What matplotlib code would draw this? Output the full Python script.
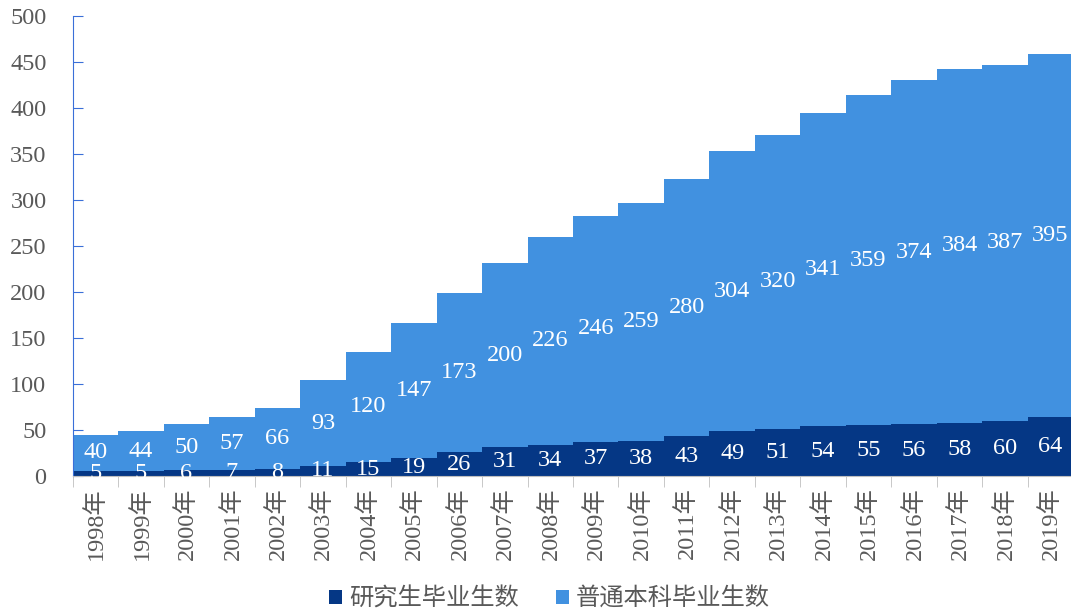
import matplotlib
matplotlib.use("Agg")
import matplotlib.pyplot as plt
import numpy as np

years = [str(y) + "年" for y in range(1998, 2020)]
grad = [5, 5, 6, 7, 8, 11, 15, 19, 26, 31, 34, 37, 38, 43, 49, 51, 54, 55, 56, 58, 60, 64]
under = [40, 44, 50, 57, 66, 93, 120, 147, 173, 200, 226, 246, 259, 280, 304, 320,
         341, 359, 374, 384, 387, 395]
series_names = ["研究生毕业生数", "普通本科毕业生数"]

dark = "#053785"
light = "#4191E0"
grey_txt = "#595959"

plt.rcParams["font.family"] = ["Liberation Serif", "Noto Sans CJK SC"]

fig = plt.figure(figsize=(10.71, 6.14), dpi=100)
ax = fig.add_axes([0.068, 0.2248, 0.934, 0.7492])

x = np.arange(len(years))
b1 = ax.bar(x, grad, width=1.0, color=dark, label=series_names[0])
b2 = ax.bar(x, under, width=1.0, bottom=grad, color=light, label=series_names[1])
ax.bar_label(b1, label_type="center", color="white", fontsize=17.5)
ax.bar_label(b2, label_type="center", color="white", fontsize=17.5)

ax.set_xlim(-0.5, len(years) - 0.5)
ax.set_ylim(0, 500)
ax.set_yticks(np.arange(0, 501, 50))
ax.set_xticks(x)
ax.set_xticklabels(years, rotation=90, fontsize=17.5, color=grey_txt)
ax.set_xticks(np.arange(-0.5, len(years), 1.0), minor=True)
ax.tick_params(axis="x", which="major", length=0, pad=8)
ax.tick_params(axis="x", which="minor", length=8, color="#BFBFBF", direction="out")
ax.tick_params(axis="y", direction="in", length=7, color="#3A6FD8", labelsize=17.5,
               labelcolor=grey_txt, pad=19)

for s in ["top", "right"]:
    ax.spines[s].set_visible(False)
ax.spines["left"].set_color("#3A6FD8")
ax.spines["bottom"].set_color("#BFBFBF")

fig.legend(handles=[b1, b2], labels=series_names, loc="center",
           bbox_to_anchor=(0.513, 0.025), ncol=2, frameon=False,
           prop={"family": ["Noto Sans CJK SC"], "size": 17.5},
           labelcolor=grey_txt, handlelength=0.55, handleheight=0.55,
           handletextpad=0.3, columnspacing=1.5)

fig.savefig("out.png", dpi=100)
